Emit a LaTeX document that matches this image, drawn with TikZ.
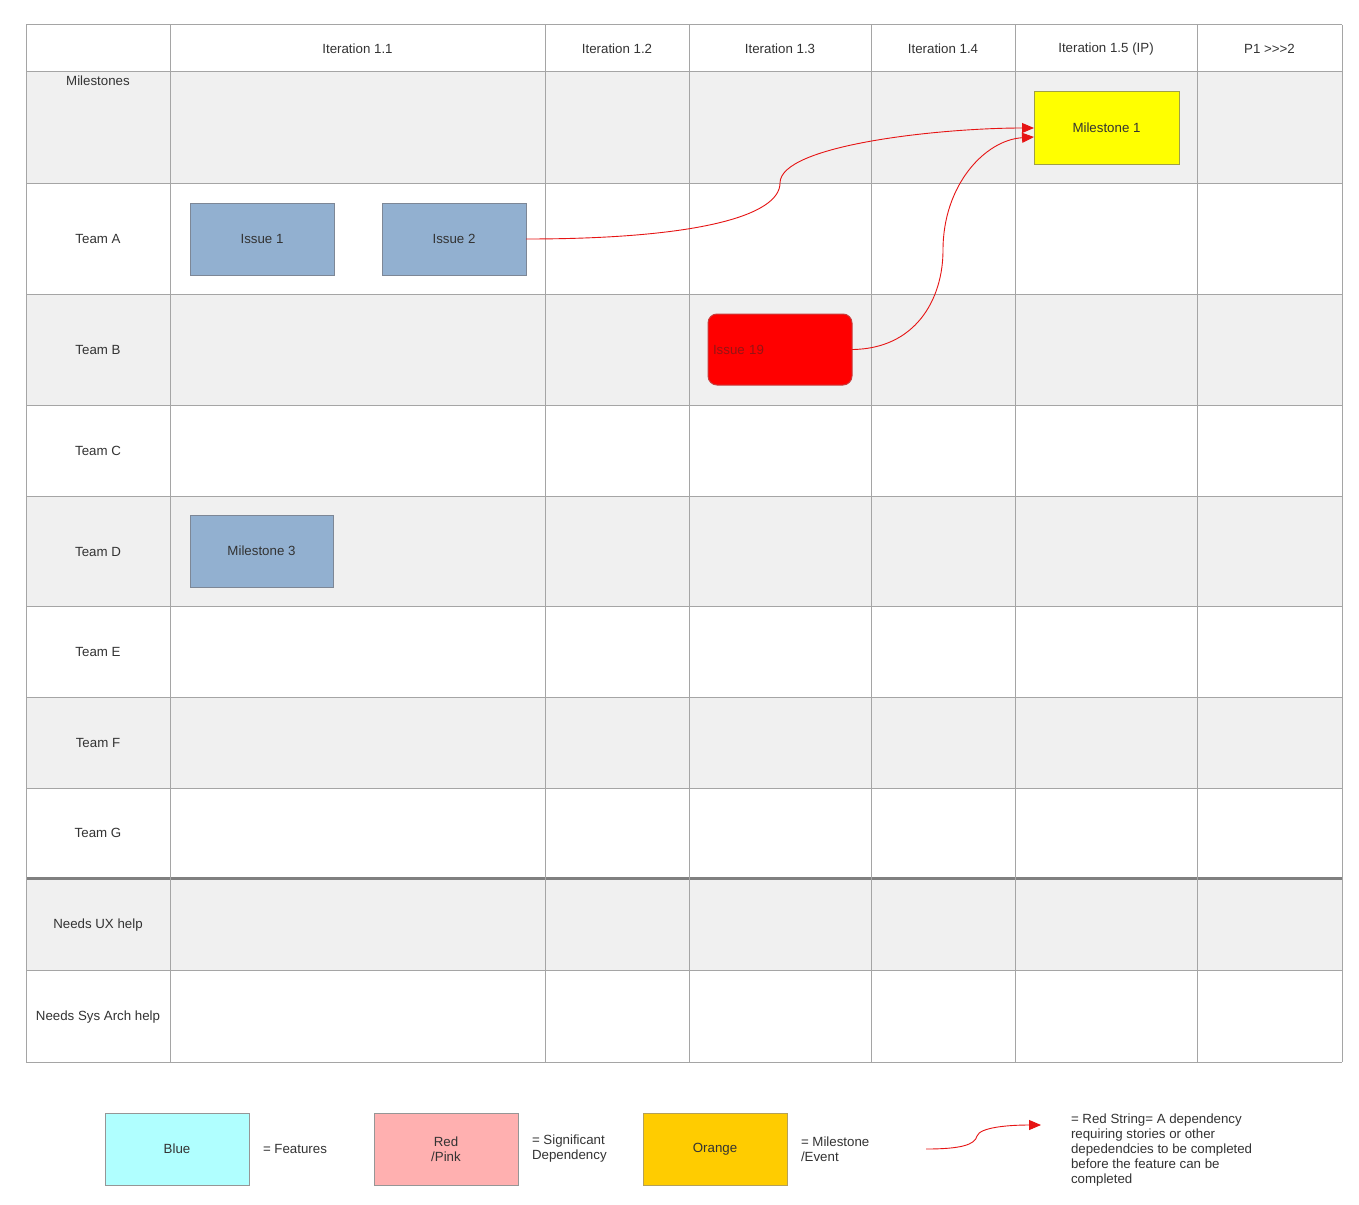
\documentclass[tikz,border=0pt]{standalone}
\usepackage{fontspec}
\setmainfont{Liberation Sans}
\usetikzlibrary{arrows.meta}
\definecolor{gridgray}{RGB}{165,165,165}
\definecolor{thickgray}{RGB}{128,128,128}
\definecolor{rowgray}{RGB}{240,240,240}
\definecolor{txt}{RGB}{51,51,51}
\definecolor{featblue}{RGB}{146,176,208}
\definecolor{featborder}{RGB}{125,135,150}
\definecolor{msyellow}{RGB}{255,255,0}
\definecolor{msborder}{RGB}{160,160,70}
\definecolor{issred}{RGB}{255,0,0}
\definecolor{issborder}{RGB}{200,60,60}
\definecolor{isstext}{RGB}{150,20,20}
\definecolor{legcyan}{RGB}{176,255,255}
\definecolor{legpink}{RGB}{255,176,176}
\definecolor{legorange}{RGB}{255,204,0}
\definecolor{legborder}{RGB}{150,150,150}
\definecolor{legoborder}{RGB}{180,160,90}
\definecolor{stringred}{RGB}{230,20,20}
\begin{document}
\begin{tikzpicture}[x=1pt,y=-1pt,
  every node/.style={font=\fontsize{13.3}{15}\selectfont, text=txt, inner sep=0pt, outer sep=0pt},
  gridline/.style={draw=gridgray, line width=1pt},
  box/.style={draw, line width=1pt, minimum width=144pt, minimum height=72pt, align=center},
  feature/.style={box, fill=featblue, draw=featborder},
  milestone/.style={box, fill=msyellow, draw=msborder},
  issue/.style={box, fill=issred, draw=issborder, rounded corners=9pt, text=isstext,
     text width=134pt, inner xsep=5pt, align=left, minimum height=71pt},
  legbox/.style={box, draw=legborder},
  redstr/.style={draw=stringred, line width=0.9pt, -{Triangle[length=12pt,width=10pt]}},
  legtxt/.style={anchor=west, align=left}
]
\useasboundingbox (0,0) rectangle (1359,1204);
\fill[white] (0,0) rectangle (1359,1204);

% row backgrounds
\foreach \a/\b in {72/183, 294/405, 496/606, 697/788, 878/970}
  \fill[rowgray] (26,\a) rectangle (1342,\b);

% horizontal lines
\foreach \yy in {25,72,183,294,405,496,606,697,788,970,1062}
  \draw[gridline] (26,\yy) -- (1342,\yy);
\draw[draw=thickgray, line width=3pt] (26,878) -- (1342,878);
% vertical lines
\foreach \xx in {26,170,545,689,871,1015,1197,1342}
  \draw[gridline] (\xx,25) -- (\xx,1062);

% header labels
\node (h11) at (357.5,49) {Iteration 1.1};
\node (h12) at (617,49) {Iteration 1.2};
\node (h13) at (780,49) {Iteration 1.3};
\node (h14) at (943,49) {Iteration 1.4};
\node (h15) at (1106,49) {Iteration 1.5 (IP)};
\node (hp1) at (1269.5,49) {P1 >{}>{}>2};

% row labels
\node (rms) at (98,81) {Milestones};
\node (rta) at (98,239) {Team A};
\node (rtb) at (98,350) {Team B};
\node (rtc) at (98,451) {Team C};
\node (rtd) at (98,552) {Team D};
\node (rte) at (98,652) {Team E};
\node (rtf) at (98,743) {Team F};
\node (rtg) at (98,833) {Team G};
\node (rux) at (98,925) {Needs UX help};
\node (rsa) at (98,1017) {Needs Sys Arch help};

% boxes
\node[feature] (issue1) at (262,239) {Issue 1};
\node[feature] (issue2) at (454,239) {Issue 2};
\node[feature, minimum width=143pt] (ms3) at (261.5,551) {Milestone 3};
\node[milestone, minimum width=145pt] (ms1) at (1106.5,128) {Milestone 1};
\node[issue] (issue19) at (780,349.5) {Issue 19};

% connectors
\draw[redstr] (issue2.east) .. controls (700,239) and (780,215) .. (780,183)
  .. controls (780,145) and (940,128) .. (ms1.west);
\draw[redstr] (issue19.east) .. controls (915,349) and (943,300) .. (943,250)
  .. controls (943,185) and (985,140) .. ([yshift=-9pt]ms1.west);

% legend
\node[legbox, fill=legcyan] (lblue) at (177,1149) {Blue};
\node[legtxt] (lfeat) at (263,1149) {= Features};
\node[legbox, fill=legpink] (lred) at (446,1149) {Red\\/Pink};
\node[legtxt] (ldep) at (532,1149) {= Significant\\Dependency};
\node[legbox, fill=legorange, draw=legoborder] (lorange) at (715,1149) {Orange};
\node[legtxt] (lmile) at (801,1149) {= Milestone\\/Event};
\coordinate (lsa) at (926,1149);
\coordinate (lsb) at (1041,1125);
\draw[redstr] (lsa) .. controls (960,1149) and (975,1145) .. (977,1136)
  .. controls (980,1127) and (1010,1125) .. (lsb);
\node[legtxt] (lstr) at (1071,1150) {= Red String= A dependency\\requiring stories or other\\depedendcies to be completed\\before the feature can be\\completed};
\end{tikzpicture}
\end{document}
